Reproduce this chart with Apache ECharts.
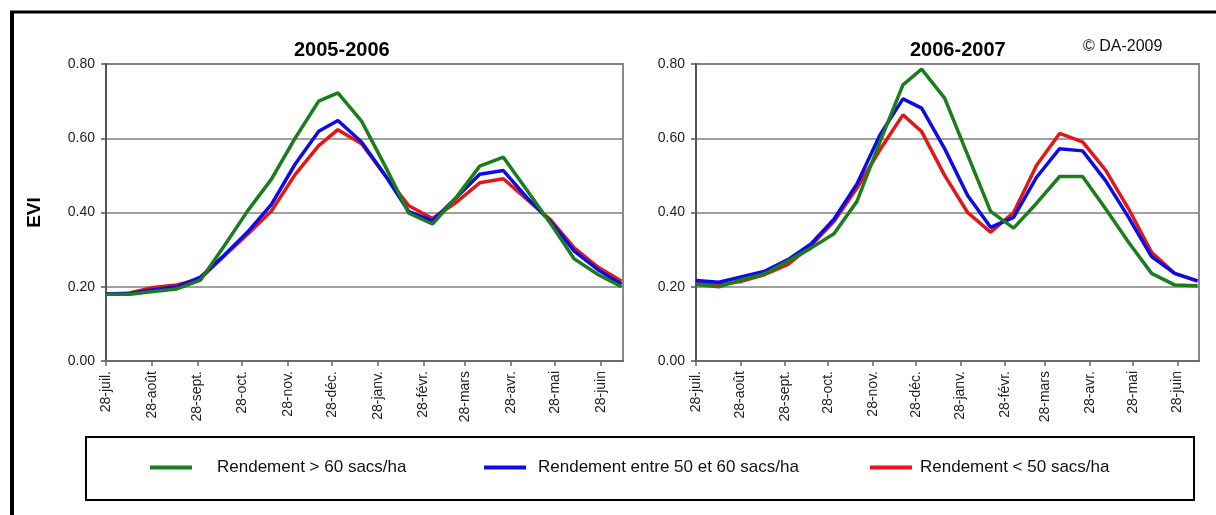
<!DOCTYPE html>
<html>
<head>
<meta charset="utf-8">
<script src="https://cdn.jsdelivr.net/npm/echarts@6/dist/echarts.min.js"></script>
<style>
html,body{margin:0;padding:0;background:#fff;}
#chart{width:1216px;height:515px;}
</style>
</head>
<body>
<div id="chart"></div>
<script>
// ---- data ----
const seriesNames = ['Rendement > 60 sacs/ha', 'Rendement entre 50 et 60 sacs/ha', 'Rendement < 50 sacs/ha'];

const dates0506 = ['2005-07-28','2005-08-13','2005-08-29','2005-09-14','2005-09-30','2005-10-16','2005-11-01','2005-11-17','2005-12-03','2005-12-19','2006-01-01','2006-01-17','2006-02-02','2006-02-18','2006-03-06','2006-03-22','2006-04-07','2006-04-23','2006-05-09','2006-05-25','2006-06-10','2006-06-26','2006-07-12'];
const dates0607 = ['2006-07-28','2006-08-13','2006-08-29','2006-09-14','2006-09-30','2006-10-16','2006-11-01','2006-11-17','2006-12-03','2006-12-19','2007-01-01','2007-01-17','2007-02-02','2007-02-18','2007-03-06','2007-03-22','2007-04-07','2007-04-23','2007-05-09','2007-05-25','2007-06-10','2007-06-26','2007-07-12'];

const green0506 = [0.180,0.180,0.187,0.194,0.218,0.310,0.405,0.490,0.600,0.700,0.722,0.646,0.525,0.398,0.369,0.440,0.525,0.549,0.460,0.370,0.275,0.233,0.200];
const blue0506  = [0.181,0.182,0.192,0.200,0.226,0.285,0.348,0.422,0.530,0.619,0.648,0.590,0.500,0.402,0.378,0.440,0.503,0.513,0.440,0.375,0.296,0.246,0.207];
const red0506   = [0.180,0.183,0.198,0.205,0.222,0.283,0.342,0.404,0.502,0.580,0.623,0.585,0.500,0.418,0.384,0.427,0.480,0.491,0.435,0.380,0.305,0.253,0.215];

const green0607 = [0.206,0.200,0.219,0.235,0.269,0.304,0.343,0.430,0.590,0.744,0.786,0.708,0.555,0.403,0.358,0.425,0.497,0.497,0.410,0.320,0.236,0.205,0.203];
const blue0607  = [0.217,0.212,0.227,0.242,0.273,0.315,0.382,0.477,0.609,0.706,0.681,0.572,0.446,0.360,0.387,0.495,0.572,0.566,0.486,0.387,0.281,0.236,0.216];
const red0607   = [0.210,0.205,0.215,0.233,0.260,0.310,0.376,0.466,0.569,0.663,0.618,0.500,0.400,0.347,0.400,0.527,0.613,0.590,0.514,0.410,0.293,0.236,0.215];

const tickDates0506 = ['2005-07-28','2005-08-28','2005-09-28','2005-10-28','2005-11-28','2005-12-28','2006-01-28','2006-02-28','2006-03-28','2006-04-28','2006-05-28','2006-06-28'];
const tickDates0607 = ['2006-07-28','2006-08-28','2006-09-28','2006-10-28','2006-11-28','2006-12-28','2007-01-28','2007-02-28','2007-03-28','2007-04-28','2007-05-28','2007-06-28'];
const tickLabels = ['28-juil.','28-août','28-sept.','28-oct.','28-nov.','28-déc.','28-janv.','28-févr.','28-mars','28-avr.','28-mai','28-juin'];
const axisStart0506 = '2005-07-28', axisEnd0506 = '2006-07-13';
const axisStart0607 = '2006-07-28', axisEnd0607 = '2007-07-13';
const yTicks = [0, 0.2, 0.4, 0.6, 0.8];

// ---- helpers ----
function dayNum(s){ const p = s.split('-').map(Number); return Date.UTC(p[0], p[1]-1, p[2]) / 86400000; }
function offsets(dates, start){ const s0 = dayNum(start); return dates.map(d => dayNum(d) - s0); }
function pairs(dates, vals, start){ const o = offsets(dates, start); return o.map((x,i)=>[x, vals[i]]); }

const FONT = "'Liberation Sans', Arial, sans-serif";
const colors = ['#1b7d1b', '#0c0ce8', '#e41616'];

function xAxisFor(gridIndex, tickDates, start, end){
  const tv = offsets(tickDates, start);
  return {
    type:'value', gridIndex, min:0, max: dayNum(end) - dayNum(start),
    axisLine:{show:true, lineStyle:{color:'#6a6a6a', width:2}},
    axisTick:{show:true, customValues: tv, length:5, lineStyle:{color:'#6a6a6a', width:1.5}},
    axisLabel:{
      customValues: tv, rotate:90, margin:10, fontSize:14, color:'#222', fontFamily:FONT,
      hideOverlap:false, showMinLabel:true, showMaxLabel:true,
      formatter:function(v){ const i = tv.indexOf(v); return i >= 0 ? tickLabels[i] : ''; }
    },
    splitLine:{show:false}
  };
}
function yAxisFor(gridIndex, withName){
  const ax = {
    type:'value', gridIndex, min:yTicks[0], max:yTicks[yTicks.length-1], interval:0.2,
    axisLine:{show:true, lineStyle:{color:'#555', width:2}},
    axisTick:{show:true, length:5, lineStyle:{color:'#555', width:1.5}},
    axisLabel:{margin:11, fontSize:14, color:'#222', fontFamily:FONT, formatter:v=>v.toFixed(2)},
    splitLine:{show:true, lineStyle:{color:'#808080', width:1.5}}
  };
  if (withName){
    ax.name = 'EVI'; ax.nameLocation = 'middle'; ax.nameGap = 62; ax.nameRotate = 90;
    ax.nameTextStyle = {fontSize:19, fontWeight:'bold', color:'#000', fontFamily:FONT};
  }
  return ax;
}
function lineSeries(name, idx, axisIdx, data){
  return {
    name, type:'line', xAxisIndex:axisIdx, yAxisIndex:axisIdx, data,
    showSymbol:false, symbol:'none', smooth:false, animation:false,
    lineStyle:{color:colors[idx], width:3.5}, itemStyle:{color:colors[idx]}, z: 3 + (2-idx)
  };
}
function legendFor(name, left, gap){
  return {
    data:[name], left, top:459, padding:0, icon:'rect', itemWidth:42, itemHeight:4,
    selectedMode:false,
    textStyle:{fontSize:17, color:'#111', fontFamily:FONT, padding:[0,0,0,gap]}
  };
}

const chart = echarts.init(document.getElementById('chart'), null, {renderer:'canvas'});
chart.setOption({
  animation:false,
  backgroundColor:'#fff',
  title:[
    {text:'2005-2006', left:294, top:40, padding:0, textStyle:{fontSize:20, fontWeight:'bold', color:'#000', fontFamily:FONT}},
    {text:'2006-2007', left:910, top:40, padding:0, textStyle:{fontSize:20, fontWeight:'bold', color:'#000', fontFamily:FONT}},
    {text:'© DA-2009', left:1083, top:39, padding:0, textStyle:{fontSize:16, fontWeight:'normal', color:'#111', fontFamily:FONT}}
  ],
  legend:[
    legendFor(seriesNames[0], 150, 20),
    legendFor(seriesNames[1], 484, 7),
    legendFor(seriesNames[2], 870, 3)
  ],
  grid:[
    {left:106, right:593, top:64, bottom:154, show:true, borderColor:'#8a8a8a', borderWidth:2, backgroundColor:'#fff'},
    {left:696, right:17, top:64, bottom:154, show:true, borderColor:'#8a8a8a', borderWidth:2, backgroundColor:'#fff'}
  ],
  xAxis:[
    xAxisFor(0, tickDates0506, axisStart0506, axisEnd0506),
    xAxisFor(1, tickDates0607, axisStart0607, axisEnd0607)
  ],
  yAxis:[ yAxisFor(0, true), yAxisFor(1, false) ],
  graphic:[
    {type:'line', shape:{x1:12, y1:12, x2:12, y2:515}, style:{stroke:'#000', lineWidth:4}, silent:true},
    {type:'line', shape:{x1:10, y1:12, x2:1216, y2:12}, style:{stroke:'#000', lineWidth:3}, silent:true},
    {type:'rect', shape:{x:86, y:437, width:1108, height:63}, style:{fill:'none', stroke:'#000', lineWidth:2}, silent:true}
  ],
  series:[
    lineSeries(seriesNames[2], 2, 0, pairs(dates0506, red0506, axisStart0506)),
    lineSeries(seriesNames[1], 1, 0, pairs(dates0506, blue0506, axisStart0506)),
    lineSeries(seriesNames[0], 0, 0, pairs(dates0506, green0506, axisStart0506)),
    lineSeries(seriesNames[2], 2, 1, pairs(dates0607, red0607, axisStart0607)),
    lineSeries(seriesNames[1], 1, 1, pairs(dates0607, blue0607, axisStart0607)),
    lineSeries(seriesNames[0], 0, 1, pairs(dates0607, green0607, axisStart0607))
  ]
});
</script>
</body>
</html>
